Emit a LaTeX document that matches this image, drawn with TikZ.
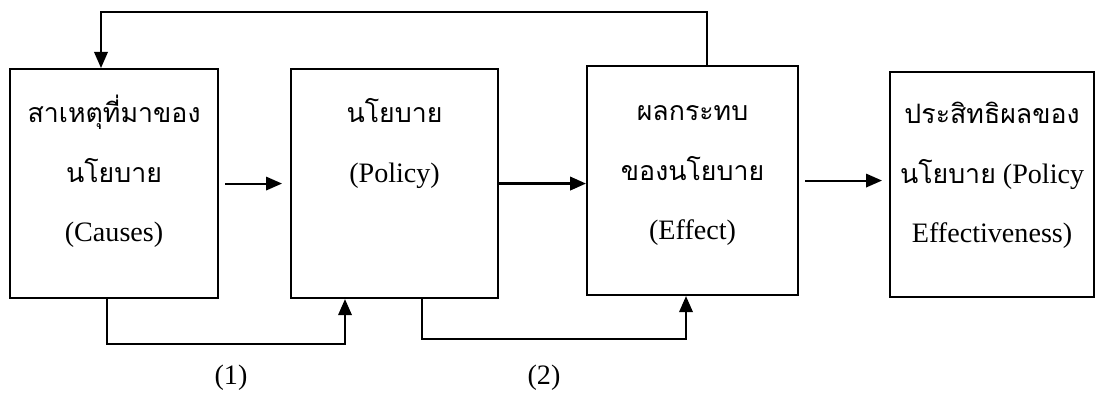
\documentclass[tikz,border=0pt]{standalone}
\usepackage{fontspec}
\setmainfont{Liberation Serif}
\newfontfamily\thai[Script=Thai,Scale=0.95]{Loma}
\newcommand{\topstrut}{\rule{0pt}{20pt}}
\usetikzlibrary{arrows.meta,positioning}

\begin{document}
\begin{tikzpicture}[
  block/.style={draw, line width=1.2pt, minimum width=4.16cm, minimum height=4.58cm, inner sep=0pt},
  blocktext/.style={align=center, inner sep=0pt, font=\fontsize{16}{34}\selectfont},
  flow/.style={line width=1.1pt, -{Triangle[length=3.2mm,width=2.7mm]}},
  numlabel/.style={font=\fontsize{16}{19}\selectfont}
]
\useasboundingbox (0,0) rectangle (21.92,-7.94);

\coordinate(O1) at (0.18,-1.36);
\node[below right=0cm of O1, block](causes) {};
\node[below=0.38cm of causes.north, blocktext](causes-txt) {\topstrut{\thai สาเหตุที่มาของ}\\{\thai นโยบาย}\\(Causes)};

\coordinate(O1) at (5.80,-1.36);
\node[below right=0cm of O1, block, minimum width=4.14cm](policy) {};
\node[below=0.38cm of policy.north, blocktext](policy-txt) {\topstrut{\thai นโยบาย}\\(Policy)};

\coordinate(O1) at (11.72,-1.30);
\node[below right=0cm of O1, block, minimum width=4.22cm](effect) {};
\node[below=0.4cm of effect.north, blocktext](effect-txt) {\topstrut{\thai ผลกระทบ}\\{\thai ของนโยบาย}\\(Effect)};

\coordinate(O1) at (17.78,-1.42);
\node[below right=0cm of O1, block, minimum width=4.08cm, minimum height=4.5cm](result) {};
\node[below=0.34cm of result.north, blocktext](result-txt) {\topstrut{\thai ประสิทธิผลของ}\\{\thai นโยบาย} (Policy\\Effectiveness)};

% main flow
\draw[flow, shorten <=0.12cm, shorten >=0.16cm] (causes.east) -- (causes.east -| policy.west);
\draw[flow, line width=1.4pt] (policy.east) -- (policy.east -| effect.west);
\draw[flow, shorten <=0.12cm, shorten >=0.14cm] (effect.east) -- (effect.east -| result.west);

% feedback to the causes
\coordinate (fb-r) at (14.14,-0.24);
\coordinate (fb-l) at (2.02,-0.24);
\draw[flow] (effect.north -| fb-r) -- (fb-r) -- (fb-l) -- (fb-l |- causes.north);

% loops underneath
\coordinate (lp1-a) at (2.14,-6.88);
\coordinate (lp1-b) at (6.90,-6.88);
\draw[flow] (lp1-a |- causes.south) -- (lp1-a) -- (lp1-b) -- (lp1-b |- policy.south);
\coordinate (lp2-a) at (8.44,-6.78);
\coordinate (lp2-b) at (13.72,-6.78);
\draw[flow] (lp2-a |- policy.south) -- (lp2-a) -- (lp2-b) -- (lp2-b |- effect.south);

\node[numlabel](lbl1) at (4.62,-7.56) {(1)};
\node[numlabel](lbl2) at (10.88,-7.56) {(2)};
\end{tikzpicture}
\end{document}
